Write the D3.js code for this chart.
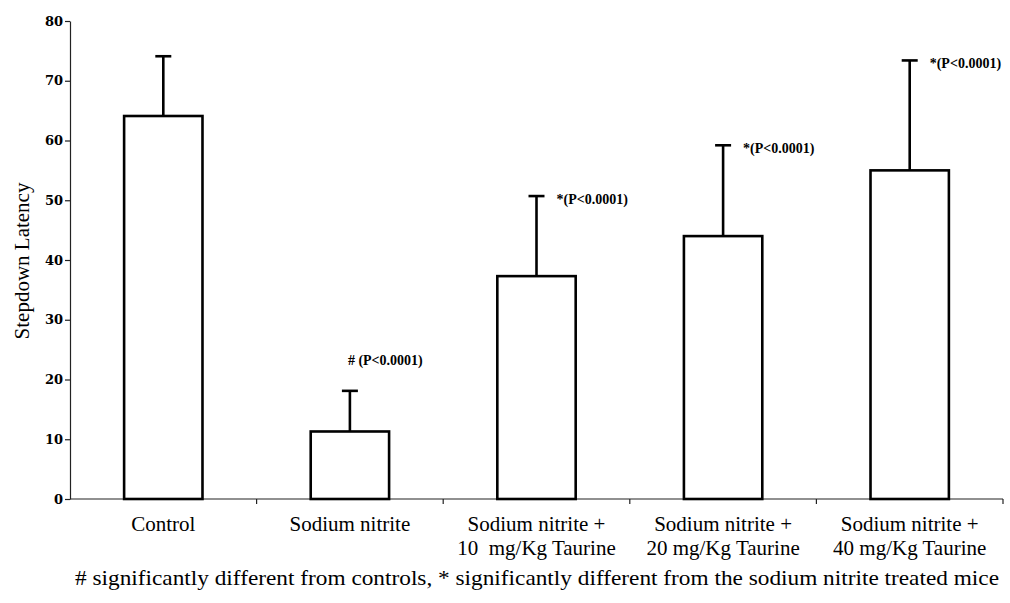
<!DOCTYPE html>
<html>
<head>
<meta charset="utf-8">
<script src="https://cdn.jsdelivr.net/npm/d3@7"></script>
<style>
  html, body { margin: 0; padding: 0; background: #fff; }
  svg { display: block; }
</style>
</head>
<body>
<svg id="chart" width="1010" height="603"></svg>
<script>
// Step-down latency per treatment group (mean and SD)
const groups = [
  ["Control"],
  ["Sodium nitrite"],
  ["Sodium nitrite +", "10  mg/Kg Taurine"],
  ["Sodium nitrite +", "20 mg/Kg Taurine"],
  ["Sodium nitrite +", "40 mg/Kg Taurine"]
];
const means = [64.1, 11.3, 37.3, 44.0, 55.0];
const sds = [10.0, 6.8, 13.4, 15.2, 18.4];
const significance = ["", "# (P<0.0001)", "*(P<0.0001)", "*(P<0.0001)", "*(P<0.0001)"];
const yTicks = [0, 10, 20, 30, 40, 50, 60, 70, 80];
const yTitle = "Stepdown Latency";
const footnote = "# significantly different from controls, * significantly different from the sodium nitrite treated mice";

const svg = d3.select("#chart");
const plotLeft = 70, plotRight = 1003, plotTop = 21, plotBottom = 499;
const serif = "'Liberation Serif', 'Times New Roman', serif";

const x = d3.scaleBand().domain(d3.range(groups.length)).range([plotLeft, plotRight]).paddingInner(0.58).paddingOuter(0.29);
const y = d3.scaleLinear().domain([0, 80]).range([plotBottom, plotTop]);

// Y axis
const yAxis = svg.append("g").attr("transform", `translate(${plotLeft},0)`)
  .call(d3.axisLeft(y).tickValues(yTicks).tickSize(5).tickSizeOuter(0));
yAxis.select(".domain").attr("stroke", "#222").attr("stroke-width", 1.2);
yAxis.selectAll(".tick line").attr("stroke", "#222").attr("stroke-width", 1.2);
yAxis.selectAll(".tick text")
  .attr("x", -7)
  .attr("font-family", "'DejaVu Serif', serif")
  .attr("font-weight", "bold")
  .attr("font-size", 13)
  .attr("fill", "#000");

// X axis baseline with group separators
const step = x.step();
svg.append("line").attr("x1", plotLeft).attr("x2", plotRight).attr("y1", plotBottom).attr("y2", plotBottom)
  .attr("stroke", "#222").attr("stroke-width", 1.2);
svg.selectAll("line.sep").data(d3.range(1, groups.length + 1)).join("line")
  .attr("class", "sep")
  .attr("x1", i => plotLeft + i * step).attr("x2", i => plotLeft + i * step)
  .attr("y1", plotBottom).attr("y2", plotBottom + 5)
  .attr("stroke", "#222").attr("stroke-width", 1.2);

// Error bars
const cap = 16;
const eb = svg.append("g").attr("stroke", "#000").attr("stroke-width", 2.6);
groups.forEach((g, i) => {
  const cx = x(i) + x.bandwidth() / 2;
  eb.append("line").attr("x1", cx).attr("x2", cx).attr("y1", y(means[i])).attr("y2", y(means[i] + sds[i]));
  eb.append("line").attr("x1", cx - cap / 2).attr("x2", cx + cap / 2).attr("y1", y(means[i] + sds[i])).attr("y2", y(means[i] + sds[i]));
});

// Bars
svg.append("g").selectAll("rect").data(means).join("rect")
  .attr("x", (d, i) => x(i))
  .attr("y", d => y(d))
  .attr("width", x.bandwidth())
  .attr("height", d => y(0) - y(d))
  .attr("fill", "#fff")
  .attr("stroke", "#000")
  .attr("stroke-width", 2.6);

// Significance labels
svg.append("g").selectAll("text").data(significance).join("text")
  .attr("x", (d, i) => {
    const cx = x(i) + x.bandwidth() / 2;
    return i === 1 ? cx - 2 : cx + 20;
  })
  .attr("y", (d, i) => i === 1 ? y(means[i] + sds[i]) - 26 : y(means[i] + sds[i]) + 8)
  .attr("font-family", serif)
  .attr("font-weight", "bold")
  .attr("font-size", 14)
  .style("white-space", "pre")
  .text(d => d);

// Category labels
const cat = svg.append("g").attr("font-family", serif)
  .attr("font-size", 21).attr("text-anchor", "middle");
groups.forEach((lines, i) => {
  const t = cat.append("text").attr("x", x(i) + x.bandwidth() / 2).attr("y", 531);
  lines.forEach((ln, j) => {
    t.append("tspan").attr("x", x(i) + x.bandwidth() / 2).attr("dy", j === 0 ? 0 : 24).style("white-space", "pre").text(ln);
  });
});

// Y axis title
svg.append("text")
  .attr("transform", "translate(22,261) rotate(-90)")
  .attr("text-anchor", "middle")
  .attr("dominant-baseline", "central")
  .attr("font-family", serif)
  .attr("font-size", 21)
  .text(yTitle);

// Footnote
svg.append("text")
  .attr("x", 537).attr("y", 585)
  .attr("text-anchor", "middle")
  .attr("font-family", serif)
  .attr("font-size", 22)
  .attr("textLength", 924)
  .attr("lengthAdjust", "spacingAndGlyphs")
  .text(footnote);
</script>
</body>
</html>
